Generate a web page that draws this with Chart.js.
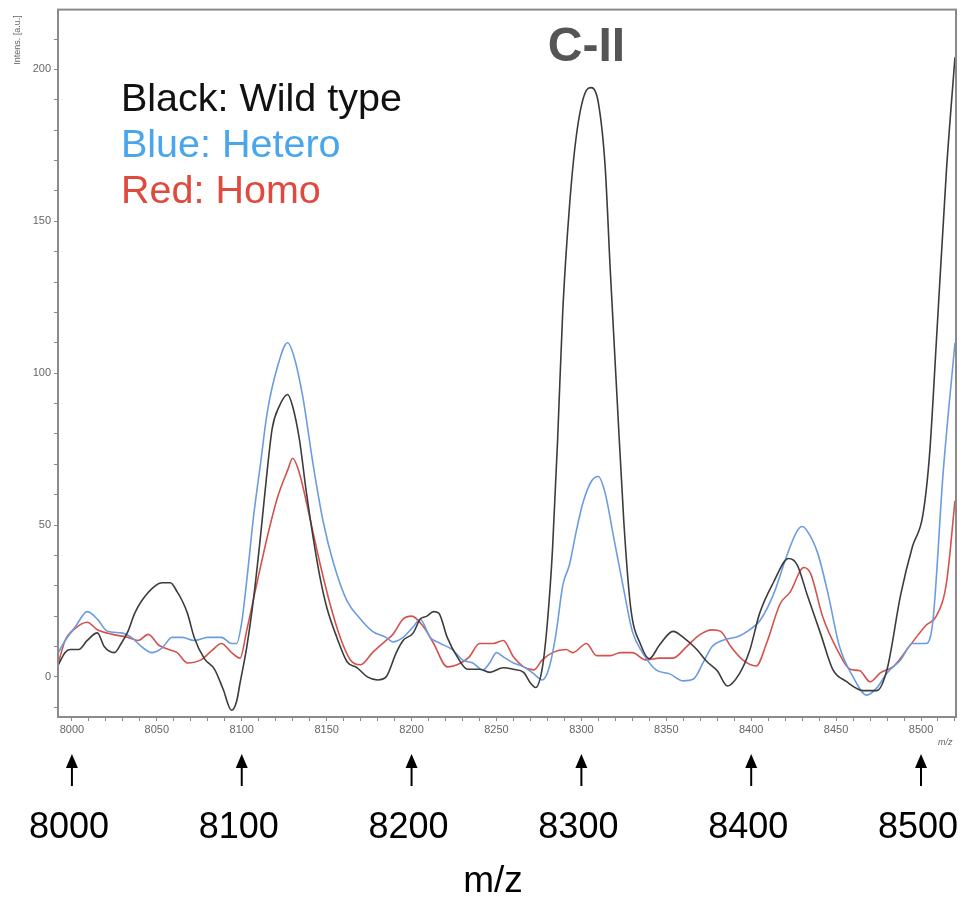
<!DOCTYPE html>
<html>
<head>
<meta charset="utf-8">
<script src="https://cdn.jsdelivr.net/npm/chart.js@4.4.0/dist/chart.umd.min.js"></script>
<style>
  html,body{margin:0;padding:0;background:#fff;}
  #wrap{position:relative;width:961px;height:900px;}
</style>
</head>
<body>
<div id="wrap"><canvas id="c" width="961" height="900"></canvas></div>
<script>
// ---- data ----
const mzBlack = [7992,7996,7999,8004,8009,8015,8019,8025,8029,8033,8037,8041,8049,8053,8058,8062,8065,8068,8072,8078,8084,8089,8094,8097,8099,8103,8107,8111,8115,8118,8122,8127,8130,8134,8138,8142,8146,8150,8156,8162,8168,8174,8180,8185,8191,8195,8201,8205,8209,8213,8216,8221,8227,8233,8240,8246,8254,8260,8266,8270,8273,8277,8280,8283,8286,8289,8293,8297,8302,8306,8310,8314,8317,8321,8325,8329,8335,8340,8346,8354,8360,8368,8374,8380,8386,8393,8399,8405,8413,8422,8427,8433,8441,8448,8456,8466,8474,8480,8488,8495,8501,8505,8509,8515,8520];
const intBlack = [4,8,9,9,12,14.5,10,8,11,15,21,25,30,31,31,28,25,21,13,6,2.5,-4,-11,-8,-2,10,26,46,68,82,89,93,89,78,61,46,33,23,13,5,3,0,-1,0,8,12,14.5,19,20,21.5,21,13,6.5,2.5,2.5,1.5,3,2.5,1.5,-2,-3.5,3,18,42,78,120,155,178,192,194,189,168,134,92,51,23,10.5,6,10.5,15,13,9,5,2,-3,1,8.5,21,31,39,37,27,14,2.5,-1.5,-4.5,-4.5,2.5,27,43,53,73,110,167,204];

const mzBlue = [7992,7996,8002,8009,8015,8021,8029,8035,8041,8047,8053,8059,8065,8072,8080,8088,8094,8097,8100,8103,8107,8111,8115,8121,8127,8131,8136,8142,8148,8154,8162,8170,8177,8185,8189,8195,8201,8205,8211,8217,8224,8230,8236,8242,8246,8250,8254,8260,8266,8272,8277,8281,8285,8289,8293,8297,8301,8306,8310,8314,8319,8325,8330,8336,8344,8352,8360,8366,8372,8377,8383,8393,8399,8405,8413,8421,8427,8430,8433,8439,8445,8452,8460,8468,8474,8480,8488,8495,8503,8507,8513,8520];
const intBlue = [8,12,16.5,21.5,19,15,14.5,13,10,8,9.5,13,13,12,13,13,11,11,18,32,53,70,87,102,110,105,92,70,51,37.5,25,19,15,13,11.5,13,16.5,19,13,11,9,5.6,4.6,2.3,4.6,8,6.6,4.6,3.3,1,-1,3,14,30,37,48,57.5,64.5,66,60.5,46,28.6,15,8,2.3,1,-1.3,-0.7,5,10,12,13.5,15.5,18.4,27,40,48,49.5,48,41,28,10,0,-6,-3.6,1.3,5.6,11,11,18.4,67,110];

const mzRed = [7992,7996,8002,8009,8015,8024,8033,8039,8045,8051,8057,8062,8068,8076,8083,8088,8094,8099,8103,8109,8115,8121,8127,8130,8134,8140,8146,8152,8158,8164,8170,8177,8185,8189,8195,8200,8207,8213,8221,8229,8234,8240,8248,8254,8260,8266,8272,8277,8283,8291,8295,8303,8309,8317,8323,8330,8338,8346,8354,8362,8370,8377,8382,8388,8395,8403,8409,8417,8423,8431,8435,8442,8451,8458,8464,8470,8476,8484,8493,8503,8509,8515,8520];
const intRed = [4.6,12,16,18,15.5,14,13,12,14,10.5,9,8,4.6,5.6,9,11,8,6.2,15.5,31,46,59,68,72,67,52.6,37.5,24,13,5.6,4,8,12,14,19,20,16.5,11,3.3,4.6,6.6,11,11,12,6.6,3.3,2.3,5.6,8,9,8,11,7,7,8,8,5.6,6.2,6.2,10,14,15.5,15,10,5.6,3.6,11,24,28,36,34,20,8.6,2.6,2,-1.6,1.3,3.6,10,17,20,31,58];

const seriesNames = ['Wild type','Hetero','Homo'];
const legendLines = ['Black: Wild type','Blue: Hetero','Red: Homo'];
const yTickLabels = [0,50,100,150,200];
const xTickLabels = [8000,8050,8100,8150,8200,8250,8300,8350,8400,8450,8500];
const arrowMarks = [8000,8100,8200,8300,8400,8500];
const peakLabel = 'C-II';

// ---- styles ----
const lineColors = ['#3c3c3c','#6b9ce0','#d4524c'];
const legendColors = ['#111111','#4aa6ec','#e0493d'];

function pts(xs, ys){ return xs.map((x,i)=>({x:x,y:ys[i]})); }

const annot = {
  id:'annot',
  afterDraw(chart){
    const ctx = chart.ctx, ca = chart.chartArea, xs = chart.scales.x;
    ctx.save();
    // frame
    ctx.strokeStyle = '#8a8a8a'; ctx.lineWidth = 2;
    ctx.strokeRect(ca.left, ca.top, ca.right-ca.left, ca.bottom-ca.top);
    // y title
    ctx.fillStyle = '#666'; ctx.font = '9px "Liberation Sans", Arial';
    ctx.save(); ctx.translate(18, 40); ctx.rotate(-Math.PI/2);
    ctx.textAlign='center'; ctx.textBaseline='middle'; ctx.fillText('Intens. [a.u.]',0,0); ctx.restore();
    // small m/z
    ctx.font = 'italic 9px "Liberation Sans", Arial'; ctx.textAlign='left'; ctx.textBaseline='middle';
    ctx.fillText('m/z', 938, 742);
    // legend lines
    ctx.font = '39.5px "Liberation Sans", Arial'; ctx.textAlign='left'; ctx.textBaseline='middle';
    legendLines.forEach((t,i)=>{ ctx.fillStyle = legendColors[i]; ctx.fillText(t, 121, 100 + i*46); });
    // peak label
    ctx.font = 'bold 48px "Liberation Sans", Arial'; ctx.fillStyle = '#555'; ctx.textAlign='center';
    ctx.fillText(peakLabel, xs.getPixelForValue(8303), 48);
    // arrows and big labels
    ctx.fillStyle = '#000'; ctx.strokeStyle = '#000';
    arrowMarks.forEach(v=>{
      const px = xs.getPixelForValue(v);
      ctx.lineWidth = 2;
      ctx.beginPath(); ctx.moveTo(px, 766); ctx.lineTo(px, 786); ctx.stroke();
      ctx.beginPath(); ctx.moveTo(px, 754); ctx.lineTo(px-6, 768); ctx.lineTo(px+6, 768); ctx.closePath(); ctx.fill();
      ctx.font = '36px "Liberation Sans", Arial'; ctx.textAlign='center'; ctx.textBaseline='middle';
      ctx.fillText(String(v), px - 3, 828);
    });
    ctx.font = '37px "Liberation Sans", Arial'; ctx.textAlign='center';
    ctx.fillText('m/z', 493, 882);
    ctx.restore();
  }
};

new Chart(document.getElementById('c'), {
  type:'line',
  data:{
    datasets:[
      {label:seriesNames[0], data:pts(mzBlack,intBlack), borderColor:lineColors[0], borderWidth:1.6, pointRadius:0, cubicInterpolationMode:'monotone', order:1},
      {label:seriesNames[1], data:pts(mzBlue,intBlue), borderColor:lineColors[1], borderWidth:1.6, pointRadius:0, cubicInterpolationMode:'monotone', order:2},
      {label:seriesNames[2], data:pts(mzRed,intRed), borderColor:lineColors[2], borderWidth:1.6, pointRadius:0, cubicInterpolationMode:'monotone', order:3}
    ]
  },
  options:{
    responsive:false, animation:false,
    layout:{padding:{left:0, top:9, right:5, bottom:153}},
    plugins:{legend:{display:false}, tooltip:{enabled:false}},
    scales:{
      x:{type:'linear', min:7991.8, max:8520.6,
        afterFit(s){ s.height = 30; },
        afterBuildTicks(s){ const t=[]; for(let v=8000; v<=8520; v+=10) t.push({value:v}); s.ticks=t; },
        ticks:{autoSkip:false, maxRotation:0, padding:2, color:'#666', font:{size:11, family:'"Liberation Sans", Arial'},
          callback:(v)=> xTickLabels.includes(v) ? String(v) : ''},
        grid:{drawOnChartArea:false, drawTicks:true, tickLength:4, color:'#888', tickWidth:1},
        border:{display:true, color:'#888', width:2}
      },
      y:{type:'linear', min:-13.2, max:219.7,
        afterFit(s){ s.width = 58; },
        afterBuildTicks(s){ const t=[]; for(let v=-10; v<=210; v+=10) t.push({value:v}); s.ticks=t; },
        ticks:{autoSkip:false, padding:3, color:'#666', font:{size:11, family:'"Liberation Sans", Arial'},
          callback:(v)=> yTickLabels.includes(v) ? String(v) : ''},
        grid:{drawOnChartArea:false, drawTicks:true, tickLength:4, color:'#888', tickWidth:1},
        border:{display:true, color:'#888', width:2}
      }
    }
  },
  plugins:[annot]
});
</script>
</body>
</html>
